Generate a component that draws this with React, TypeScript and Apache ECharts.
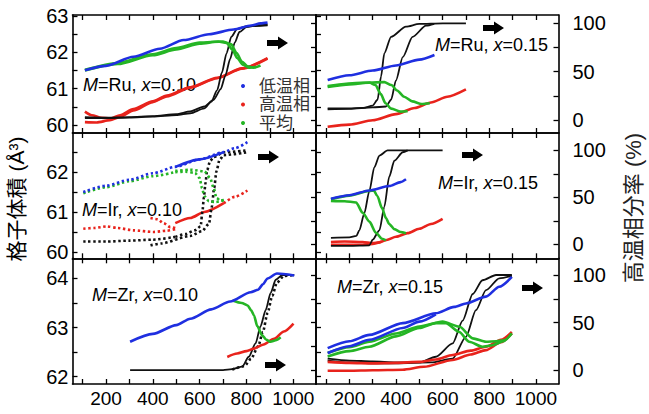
import { useEffect, useRef } from "react";
import * as echarts from "echarts";

// temperature (K) -> lattice volume (Å^3) or high-temperature phase fraction (%)
// Ru, x = 0.10
const ru10Blue = [[110, 61.51], [200, 61.63], [317, 61.88], [430, 62.1], [532, 62.34], [640, 62.5], [745, 62.63], [820, 62.74], [860, 62.8], [890, 62.82]];
const ru10Green1 = [[110, 61.5], [250, 61.68], [400, 61.92], [500, 62.08], [600, 62.24], [680, 62.3], [715, 62.26], [740, 62.08], [760, 61.85], [785, 61.66], [810, 61.58], [840, 61.6]];
const ru10Green2 = [[110, 61.52], [250, 61.71], [400, 61.95], [500, 62.12], [600, 62.27], [700, 62.3], [735, 62.22], [758, 61.98], [780, 61.75], [805, 61.62], [830, 61.58], [860, 61.64]];
const ru10Red1 = [[110, 60.37], [140, 60.27], [180, 60.2], [217, 60.18], [260, 60.27], [317, 60.44], [400, 60.65], [460, 60.81], [560, 61.04], [675, 61.3], [780, 61.56], [890, 61.84]];
const ru10Red2 = [[110, 60.08], [160, 60.07], [217, 60.13], [260, 60.22], [317, 60.4], [400, 60.63], [460, 60.79], [560, 61.03], [675, 61.29], [780, 61.55], [890, 61.83]];
const ru10Black1 = [[110, 3], [200, 2.5], [300, 3], [400, 4], [500, 6], [560, 9], [620, 14], [660, 21], [690, 32], [710, 46], [730, 63], [750, 80], [770, 91], [800, 96], [850, 98], [890, 98.5]];
const ru10Black2 = [[110, 2], [200, 2], [300, 2.5], [400, 3.5], [500, 5], [560, 7], [620, 12], [650, 19], [675, 31], [695, 49], [715, 69], [735, 86], [760, 94], [800, 97], [890, 98]];

// Ru, x = 0.15
const ru15Blue = [[107, 61.24], [200, 61.37], [300, 61.5], [400, 61.64], [500, 61.8], [565, 61.93]];
const ru15Green1 = [[107, 61.05], [200, 61.12], [286, 61.17], [312, 61.1], [335, 60.85], [355, 60.6], [380, 60.45], [420, 60.37], [450, 60.38]];
const ru15Green2 = [[107, 61.07], [250, 61.16], [350, 61.18], [380, 61.1], [405, 60.95], [435, 60.78], [470, 60.65], [510, 60.58], [545, 60.6]];
const ru15Red = [[107, 59.95], [200, 60.01], [300, 60.13], [400, 60.3], [480, 60.47], [550, 60.62], [620, 60.78], [700, 60.98]];
const ru15Black1 = [[107, 12], [200, 12], [260, 12.5], [300, 15], [321, 21], [336, 45], [350, 69], [379, 86], [443, 96.5], [500, 99.4], [600, 100], [700, 100]];
const ru15Black2 = [[107, 11], [200, 11.5], [300, 13], [357, 14], [379, 21], [400, 41], [429, 65], [471, 86], [529, 97.6], [564, 99.5]];

// Ir, x = 0.10
const ir10Blue = [[103, 61.5], [200, 61.66], [300, 61.81], [400, 61.97], [496, 62.13], [600, 62.32], [703, 62.5], [750, 62.6], [804, 62.75]];
const ir10BlueDense = [[496, 62.13], [600, 62.32], [703, 62.5]];
const ir10Green = [[103, 61.47], [200, 61.62], [300, 61.77], [400, 61.9], [496, 62.0]];
const ir10GreenA = [[496, 62.0], [540, 62.01], [580, 61.98], [600, 61.85], [610, 61.6], [620, 61.4], [640, 61.27], [670, 61.25], [703, 61.3]];
const ir10GreenB = [[496, 62.03], [560, 62.06], [620, 62.02], [645, 61.85], [660, 61.6], [672, 61.35], [690, 61.28], [703, 61.3]];
const ir10Red = [[103, 60.58], [150, 60.6], [203, 60.64], [250, 60.6], [317, 60.54], [403, 60.5], [460, 60.53], [496, 60.57]];
const ir10RedBump = [[390, 60.85], [420, 60.82], [446, 60.72], [475, 60.62], [496, 60.6]];
const ir10RedDense = [[496, 60.72], [560, 60.85], [620, 61.0], [703, 61.22]];
const ir10RedHigh = [[703, 61.22], [750, 61.38], [804, 61.54]];
const ir10BlackLow1 = [[103, 3], [200, 3], [300, 4], [400, 5], [496, 8]];
const ir10BlackLow2 = [[390, -1], [440, 1], [496, 5]];
const ir10Black1 = [[496, 8], [540, 11], [580, 15], [604, 19], [612, 35], [618, 50], [625, 65], [632, 79], [645, 89], [661, 93], [703, 98], [804, 100]];
const ir10Black2 = [[496, 5], [560, 9], [610, 14], [640, 22], [652, 40], [662, 60], [672, 78], [685, 90], [703, 95], [804, 98]];

// Ir, x = 0.15
const ir15Blue = [[121, 61.33], [200, 61.42], [286, 61.54], [371, 61.65], [420, 61.75], [443, 61.82]];
const ir15GreenA = [[121, 61.28], [180, 61.27], [229, 61.24], [257, 60.98], [286, 60.76], [314, 60.48], [340, 60.33], [357, 60.29]];
const ir15GreenB = [[121, 61.32], [200, 61.41], [286, 61.53], [305, 61.54], [320, 61.4], [340, 61.1], [357, 60.85], [371, 60.7], [393, 60.57], [420, 60.5], [443, 60.47]];
const ir15Red1 = [[121, 60.25], [180, 60.26], [257, 60.25], [300, 60.22], [329, 60.24], [360, 60.3], [400, 60.38], [450, 60.47], [500, 60.58], [550, 60.7], [600, 60.83]];
const ir15Red2 = [[121, 60.18], [200, 60.18], [257, 60.18], [300, 60.2], [340, 60.26]];
const ir15Black1 = [[121, 7], [200, 7.5], [230, 9], [243, 15], [264, 33], [286, 57], [307, 82], [329, 94.5], [364, 100], [450, 100], [600, 100]];
const ir15Black2 = [[121, -1.5], [200, -1.5], [286, -1], [300, 5], [329, 15], [350, 40], [371, 72], [393, 89], [429, 98], [450, 100]];

// Zr, x = 0.10
const zr10Blue = [[303, 62.71], [400, 62.87], [500, 63.05], [560, 63.18], [650, 63.37], [730, 63.53], [818, 63.72], [850, 63.77], [870, 63.88], [890, 64.0], [930, 64.1], [1004, 64.06]];
const zr10Green = [[740, 63.55], [780, 63.5], [805, 63.45], [820, 63.35], [832, 63.25], [846, 63.03], [867, 62.84], [885, 62.75], [903, 62.71], [925, 62.74], [946, 62.8]];
const zr10Red = [[718, 62.4], [760, 62.47], [800, 62.52], [832, 62.57], [870, 62.65], [918, 62.77], [960, 62.92], [1001, 63.08]];
const zr10Black1 = [[303, 0], [500, 0], [700, 0], [739, 1], [782, 3.5], [810, 14], [839, 28], [860, 46], [882, 63], [903, 81], [925, 95], [953, 100], [1004, 100]];
const zr10Black2 = [[739, 0.5], [790, 4], [820, 12], [850, 25], [870, 40], [890, 60], [910, 78], [930, 92], [960, 99], [1004, 100]];

// Zr, x = 0.15
const zr15Blue1 = [[107, 62.58], [200, 62.72], [286, 62.85], [429, 63.09], [571, 63.29], [650, 63.42], [700, 63.49], [786, 63.63], [843, 63.83], [897, 64.03]];
const zr15Blue2 = [[107, 62.48], [200, 62.62], [286, 62.75], [429, 62.99], [500, 63.12], [571, 63.27]];
const zr15Green1 = [[107, 62.48], [200, 62.6], [286, 62.71], [400, 62.88], [500, 63.02], [600, 63.12], [671, 63.02], [729, 62.78], [786, 62.71], [830, 62.72], [871, 62.75]];
const zr15Green2 = [[107, 62.41], [200, 62.52], [286, 62.61], [400, 62.82], [500, 62.99], [571, 63.09], [614, 63.09], [671, 62.91], [714, 62.71], [771, 62.61], [814, 62.64], [860, 62.72], [897, 62.88]];
const zr15Red1 = [[107, 62.3], [200, 62.28], [300, 62.27], [400, 62.28], [500, 62.3], [571, 62.35], [643, 62.44], [720, 62.53], [786, 62.61], [850, 62.75], [897, 62.91]];
const zr15Red2 = [[107, 62.12], [200, 62.12], [300, 62.13], [429, 62.14], [520, 62.2], [643, 62.34], [720, 62.45], [786, 62.54], [850, 62.7], [897, 62.88]];
const zr15Black1 = [[107, 12], [200, 10], [300, 9], [400, 8], [500, 8], [571, 14], [643, 28], [686, 52], [729, 80], [771, 94.5], [829, 100], [897, 100]];
const zr15Black2 = [[107, 10], [200, 8], [300, 7], [400, 7], [550, 8], [643, 12], [700, 35], [743, 63], [786, 84], [843, 96.5], [897, 99]];

// ticks and labels
const xTicks = [100, 200, 300, 400, 500, 600, 700, 800, 900, 1000];
const xLabels = [200, 400, 600, 800, 1000];
const pctTicks = [0, 25, 50, 75, 100];
const pctLabels = [0, 50, 100];
const volTicks = [
  [60, 60.5, 61, 61.5, 62, 62.5, 63],
  [60, 60.5, 61, 61.5, 62, 62.5],
  [62, 62.5, 63, 63.5, 64],
];
const volLabels = [[60, 61, 62, 63], [60, 61, 62], [62, 63, 64]];
const legendNames = ["低温相", "高温相", "平均"];

const BLUE = "#1f2fe0";
const RED = "#e8231c";
const GREEN = "#25b525";
const BLACK = "#111111";
const NUM_FONT = "'Liberation Sans', Arial, sans-serif";
const CJK_FONT = "'Liberation Sans', 'Noto Sans CJK JP', sans-serif";

const rows = [
  { top: 15, height: 118, vol: [59.78, 63.03], pct: [-13.4, 108.6] },
  { top: 133, height: 125.3, vol: [59.84, 62.98], pct: [-14.8, 118.5] },
  { top: 258.3, height: 125.7, vol: [61.85, 64.41], pct: [-14.7, 117.6] },
];
const cols = [
  { left: 72.5, width: 243.5 },
  { left: 316, width: 242.5 },
];

type S = { data: number[][]; color: string; pct?: boolean; dotted?: boolean; name?: string };
type Panel = { m: string; x: string; label: [number, number]; arrow: [number, number]; series: S[] };

const panels: Panel[] = [
  {
    m: "Ru", x: "0.10", label: [83, 85], arrow: [267, 43],
    series: [
      { data: ru10Red1, color: RED, name: legendNames[1] },
      { data: ru10Red2, color: RED, name: legendNames[1] },
      { data: ru10Black1, color: BLACK, pct: true },
      { data: ru10Black2, color: BLACK, pct: true },
      { data: ru10Green1, color: GREEN, name: legendNames[2] },
      { data: ru10Green2, color: GREEN, name: legendNames[2] },
      { data: ru10Blue, color: BLUE, name: legendNames[0] },
    ],
  },
  {
    m: "Ru", x: "0.15", label: [435, 45], arrow: [483, 28],
    series: [
      { data: ru15Red, color: RED },
      { data: ru15Black1, color: BLACK, pct: true },
      { data: ru15Black2, color: BLACK, pct: true },
      { data: ru15Green1, color: GREEN },
      { data: ru15Green2, color: GREEN },
      { data: ru15Blue, color: BLUE },
    ],
  },
  {
    m: "Ir", x: "0.10", label: [82, 210], arrow: [258, 157],
    series: [
      { data: ir10Red, color: RED, dotted: true },
      { data: ir10RedBump, color: RED, dotted: true },
      { data: ir10RedDense, color: RED },
      { data: ir10RedHigh, color: RED, dotted: true },
      { data: ir10BlackLow1, color: BLACK, pct: true, dotted: true },
      { data: ir10BlackLow2, color: BLACK, pct: true, dotted: true },
      { data: ir10Black1, color: BLACK, pct: true, dotted: true },
      { data: ir10Black2, color: BLACK, pct: true, dotted: true },
      { data: ir10Green, color: GREEN, dotted: true },
      { data: ir10GreenA, color: GREEN, dotted: true },
      { data: ir10GreenB, color: GREEN, dotted: true },
      { data: ir10Blue, color: BLUE, dotted: true },
      { data: ir10BlueDense, color: BLUE },
    ],
  },
  {
    m: "Ir", x: "0.15", label: [438, 183], arrow: [462, 155],
    series: [
      { data: ir15Red1, color: RED },
      { data: ir15Red2, color: RED },
      { data: ir15Black1, color: BLACK, pct: true },
      { data: ir15Black2, color: BLACK, pct: true },
      { data: ir15GreenA, color: GREEN },
      { data: ir15GreenB, color: GREEN },
      { data: ir15Blue, color: BLUE },
    ],
  },
  {
    m: "Zr", x: "0.10", label: [92, 295], arrow: [265, 365],
    series: [
      { data: zr10Black1, color: BLACK, pct: true },
      { data: zr10Black2, color: BLACK, pct: true, dotted: true },
      { data: zr10Red, color: RED },
      { data: zr10Green, color: GREEN },
      { data: zr10Blue, color: BLUE },
    ],
  },
  {
    m: "Zr", x: "0.15", label: [337, 287], arrow: [522, 288],
    series: [
      { data: zr15Black1, color: BLACK, pct: true },
      { data: zr15Black2, color: BLACK, pct: true },
      { data: zr15Red1, color: RED },
      { data: zr15Red2, color: RED },
      { data: zr15Green1, color: GREEN },
      { data: zr15Green2, color: GREEN },
      { data: zr15Blue1, color: BLUE },
      { data: zr15Blue2, color: BLUE },
    ],
  },
];

const frame = { show: true, onZero: false, lineStyle: { color: "#000", width: 1.6 } };
const ticks = (values: number[]) => ({
  show: true,
  inside: true,
  length: 5,
  customValues: values,
  lineStyle: { color: "#000", width: 1.3 },
});

function arrow(x0: number, y: number) {
  return {
    type: "polygon",
    shape: {
      points: [
        [x0, y - 3], [x0 + 11, y - 3], [x0 + 11, y - 6.5], [x0 + 21, y],
        [x0 + 11, y + 6.5], [x0 + 11, y + 3], [x0, y + 3],
      ],
    },
    style: { fill: "#000" },
  };
}

function buildOption(): echarts.EChartsOption {
  const grid: any[] = [];
  const xAxis: any[] = [];
  const yAxis: any[] = [];
  const series: any[] = [];
  const graphic: any[] = [];

  panels.forEach((p, g) => {
    const r = Math.floor(g / 2);
    const c = g % 2;
    const row = rows[r];
    const col = cols[c];
    grid.push({ left: col.left, top: row.top, width: col.width, height: row.height });

    xAxis.push({
      type: "value", gridIndex: g, position: "bottom", min: 57, max: 1097,
      axisLine: frame, axisTick: ticks(xTicks), splitLine: { show: false },
      axisLabel: {
        show: r === 2, customValues: xLabels, margin: 5,
        formatter: (v: number) => String(v),
        fontSize: 19, color: "#000", fontFamily: NUM_FONT,
      },
    });
    xAxis.push({
      type: "value", gridIndex: g, position: "top", min: 57, max: 1097,
      axisLine: frame, axisTick: ticks(xTicks), splitLine: { show: false },
      axisLabel: { show: false },
    });
    yAxis.push({
      type: "value", gridIndex: g, position: "left", min: row.vol[0], max: row.vol[1],
      axisLine: frame, axisTick: ticks(volTicks[r]), splitLine: { show: false },
      axisLabel: {
        show: c === 0, customValues: volLabels[r], margin: 4,
        fontSize: 20, color: "#000", fontFamily: NUM_FONT,
      },
    });
    yAxis.push({
      type: "value", gridIndex: g, position: "right", min: row.pct[0], max: row.pct[1],
      axisLine: frame, axisTick: ticks(pctTicks), splitLine: { show: false },
      axisLabel: {
        show: c === 1, customValues: pctLabels, margin: 14,
        fontSize: 20, color: "#000", fontFamily: NUM_FONT,
      },
    });

    p.series.forEach((s) => {
      const isBlack = s.color === BLACK;
      series.push({
        type: "line",
        name: s.name,
        xAxisIndex: 2 * g,
        yAxisIndex: s.pct ? 2 * g + 1 : 2 * g,
        data: s.data,
        symbol: "none",
        smooth: 0.25,
        smoothMonotone: "x",
        itemStyle: { color: s.color },
        lineStyle: s.dotted
          ? { color: s.color, width: 2.6, type: [2.4, 2.6] }
          : { color: s.color, width: isBlack ? 1.8 : 2.6 },
      });
    });

    graphic.push({
      type: "text",
      x: p.label[0],
      y: p.label[1],
      style: {
        text: `{i|M}=${p.m}, {i|x}=${p.x}`,
        fontSize: 18,
        fontFamily: NUM_FONT,
        fill: "#000",
        align: "left",
        verticalAlign: "middle",
        textAlign: "left",
        textVerticalAlign: "middle",
        rich: { i: { fontStyle: "italic", fontSize: 18, fontFamily: NUM_FONT, fill: "#000" } },
      },
    });
    graphic.push(arrow(p.arrow[0], p.arrow[1]));
  });

  graphic.push({
    type: "text", x: 16, y: 199, rotation: Math.PI / 2,
    style: {
      text: "格子体積 (Å³)", fontSize: 21, fontFamily: CJK_FONT, fill: "#000",
      align: "center", verticalAlign: "middle", textAlign: "center", textVerticalAlign: "middle",
    },
  });
  graphic.push({
    type: "text", x: 633, y: 208, rotation: Math.PI / 2,
    style: {
      text: "高温相分率 (%)", fontSize: 22, fontFamily: CJK_FONT, fill: "#222",
      align: "center", verticalAlign: "middle", textAlign: "center", textVerticalAlign: "middle",
    },
  });

  return {
    animation: false,
    backgroundColor: "#fff",
    grid,
    xAxis,
    yAxis,
    series,
    graphic,
    legend: {
      data: [
        { name: legendNames[0], itemStyle: { color: BLUE } },
        { name: legendNames[1], itemStyle: { color: RED } },
        { name: legendNames[2], itemStyle: { color: GREEN } },
      ],
      orient: "vertical",
      left: 236,
      top: 72,
      icon: "circle",
      itemWidth: 4,
      itemHeight: 4,
      itemGap: 0.5,
      selectedMode: false,
      textStyle: { fontSize: 17, lineHeight: 18, color: "#333", fontFamily: CJK_FONT, padding: [0, 0, 0, 9] },
    },
  };
}

export default function App() {
  const chartRef = useRef<HTMLDivElement>(null);

  useEffect(() => {
    if (!chartRef.current) return;
    const chart = echarts.init(chartRef.current, undefined, { renderer: "svg" });
    chart.setOption(buildOption());
    return () => {
      chart.dispose();
    };
  }, []);

  return (
    <div
      ref={chartRef}
      style={{ position: "absolute", left: 0, top: 0, width: 649, height: 414, background: "#fff" }}
    />
  );
}
